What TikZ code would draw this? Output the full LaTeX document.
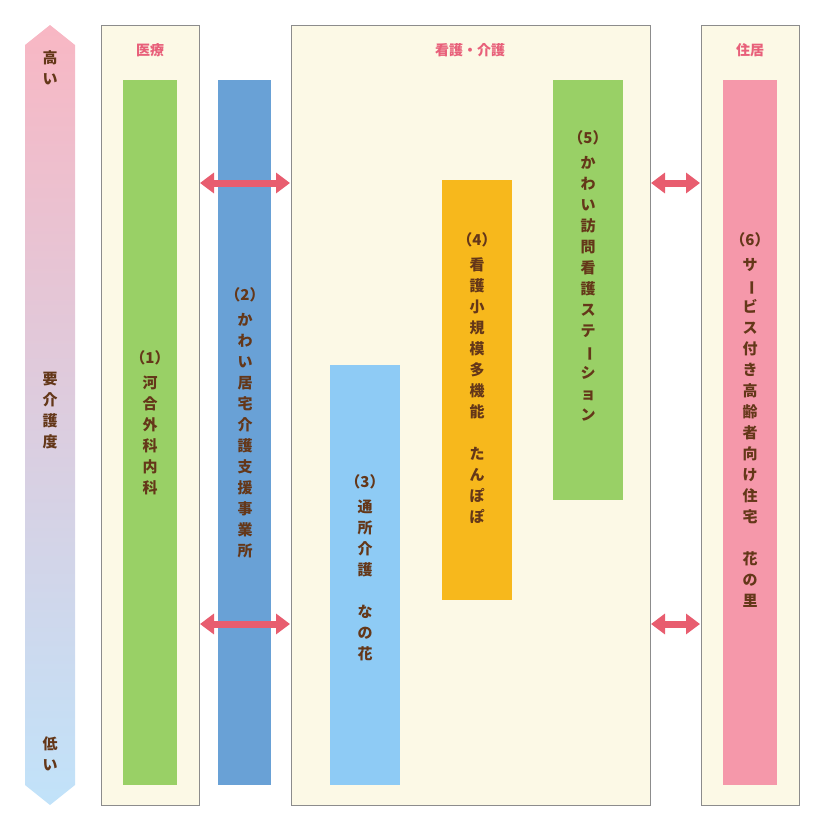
\documentclass[tikz,border=0pt]{standalone}
\usepackage{fontspec}
\setmainfont{Noto Sans CJK JP}
\usepackage{graphicx}
\usetikzlibrary{arrows.meta}
\definecolor{brn}{RGB}{100,55,25}
\definecolor{ttl}{RGB}{232,96,122}
\definecolor{crm}{RGB}{252,249,230}
\definecolor{gcol}{RGB}{153,208,102}
\definecolor{bcol}{RGB}{105,161,214}
\definecolor{lbcol}{RGB}{142,203,245}
\definecolor{ocol}{RGB}{247,184,28}
\definecolor{pcol}{RGB}{245,152,170}
\definecolor{acol}{RGB}{232,93,111}
\tikzset{area/.style={draw=black!45,fill=crm,line width=0.8pt}}
\tikzset{ttl/.style={text=ttl,font=\bfseries\fontsize{14}{14}\selectfont}}
\tikzset{vlab/.style={anchor=north,text=brn,align=center,inner sep=0pt,font=\bfseries\fontsize{15}{21}\selectfont}}
\tikzset{link/.style={acol,line width=7pt,{Triangle[length=14pt,width=20pt]}-{Triangle[length=14pt,width=20pt]}}}
\newcommand{\cho}{\rotatebox[origin=c]{-90}{ー}}
\begin{document}
\begin{tikzpicture}[x=1pt,y=-1pt]
\useasboundingbox (0,0) rectangle (820,830);
% scale
\shade[top color=pcol!70,bottom color=lbcol!55] (50,25) -- (75,45) -- (75,785) -- (50,805) -- (25,785) -- (25,45) -- cycle;
\node[vlab] (hi) at (50,50) {高\\い};
\node[vlab] (lvl) at (50,372) {要\\介\\護\\度};
\node[vlab] (lo) at (50,737) {低\\い};
% areas
\node[area,minimum width=98,minimum height=780,anchor=north west] (med) at (101,25) {};
\node[area,minimum width=359,minimum height=780,anchor=north west] (care) at (291,25) {};
\node[area,minimum width=98,minimum height=780,anchor=north west] (home) at (701,25) {};
\node[ttl] at (150,50) {医療};
\node[ttl] at (470,50) {看護・介護};
\node[ttl] at (750,50) {住居};
% bars
\fill[gcol] (123,80) rectangle (177,785);
\fill[bcol] (218,80) rectangle (271,785);
\fill[lbcol] (330,365) rectangle (400,785);
\fill[ocol] (442,180) rectangle (512,600);
\fill[gcol] (553,80) rectangle (623,500);
\fill[pcol] (723,80) rectangle (777,785);
\node[vlab] (b1) at (150,350) {（1）\\[4pt]河\\合\\外\\科\\内\\科};
\node[vlab] (b2) at (245,287) {（2）\\[4pt]か\\わ\\い\\居\\宅\\介\\護\\支\\援\\事\\業\\所};
\node[vlab] (b3) at (365,474) {（3）\\[4pt]通\\所\\介\\護\\[21pt]な\\の\\花};
\node[vlab] (b4) at (477,232) {（4）\\[4pt]看\\護\\小\\規\\模\\多\\機\\能\\[21pt]た\\ん\\ぽ\\ぽ};
\node[vlab] (b5) at (588,130) {（5）\\[4pt]か\\わ\\い\\訪\\問\\看\\護\\ス\\テ\\\cho\\シ\\ョ\\ン};
\node[vlab] (b6) at (750,232) {（6）\\[4pt]サ\\\cho\\ビ\\ス\\付\\き\\高\\齢\\者\\向\\け\\住\\宅\\[21pt]花\\の\\里};
% links
\coordinate (l1) at (200,183); \coordinate (r1) at (290,183);
\coordinate (l2) at (200,624); \coordinate (r2) at (290,624);
\coordinate (l3) at (651,183); \coordinate (r3) at (700,183);
\coordinate (l4) at (651,624); \coordinate (r4) at (700,624);
\draw[link] (l1) -- (r1);
\draw[link] (l2) -- (r2);
\draw[link] (l3) -- (r3);
\draw[link] (l4) -- (r4);
\end{tikzpicture}
\end{document}
